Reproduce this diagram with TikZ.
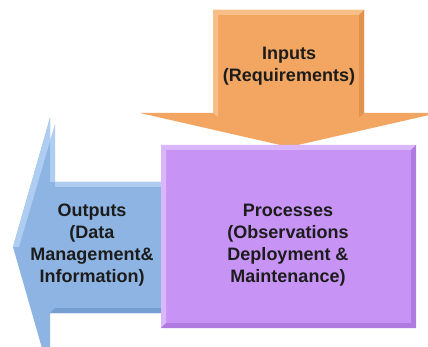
\documentclass[tikz,border=0pt]{standalone}
\usepackage{fontspec}
\setmainfont{Liberation Sans}
\definecolor{inorange}{RGB}{242,166,98}
\definecolor{inorangelt}{RGB}{247,190,135}
\definecolor{inorangedk}{RGB}{226,146,78}
\definecolor{procpurple}{RGB}{199,148,245}
\definecolor{procpurplelt}{RGB}{218,182,250}
\definecolor{procpurpledk}{RGB}{176,122,224}
\definecolor{outblue}{RGB}{141,180,226}
\definecolor{outbluelt}{RGB}{175,205,240}
\definecolor{outbluedk}{RGB}{118,158,208}
\definecolor{txtgray}{RGB}{28,28,28}
\begin{document}
\begin{tikzpicture}[x=1pt,y=-1pt,
  lbl/.style={font=\bfseries\fontsize{18}{22}\selectfont, text=txtgray, align=center, inner sep=0pt}]
\useasboundingbox (0,0) rectangle (428,347);
\fill[white] (0,0) rectangle (428,347);
\clip (0,0) rectangle (428,347);
% blue output arrow
\fill[outblue] (161,182) -- (50,182) -- (50,118) -- (13,247) -- (50,376) -- (50,313) -- (161,313) -- cycle;
\fill[outbluelt] (161,182) -- (50,182) -- (50,118) -- (13,247) -- (19,247) -- (55,124) -- (55,187) -- (161,187) -- cycle;
\fill[outbluedk] (161,313) -- (50,313) -- (55,308) -- (161,308) -- cycle;
% orange input arrow
\fill[inorange] (213,10) -- (364,10) -- (364,113) -- (438,113) -- (289,147) -- (140,113) -- (213,113) -- cycle;
\fill[inorangelt] (213,10) -- (364,10) -- (359,15) -- (218,15) -- cycle;
\fill[inorangelt] (213,10) -- (218,15) -- (218,117) -- (213,113) -- cycle;
\fill[inorangedk] (364,10) -- (364,113) -- (359,117) -- (359,15) -- cycle;
% purple process box
\fill[procpurple] (161,145) rectangle (416,328);
\fill[procpurplelt] (161,145) -- (416,145) -- (411,150) -- (166,150) -- cycle;
\fill[procpurplelt] (161,145) -- (166,150) -- (166,323) -- (161,328) -- cycle;
\fill[procpurpledk] (416,145) -- (416,328) -- (411,323) -- (411,150) -- cycle;
\fill[procpurpledk] (161,328) -- (416,328) -- (411,323) -- (166,323) -- cycle;
% labels
\node[lbl] (inputs) at (289,66) {Inputs\\(Requirements)};
\node[lbl] (processes) at (288,245) {Processes\\(Observations\\Deployment \&\\Maintenance)};
\node[lbl] (outputs) at (92,245) {Outputs\\(Data\\Management\&\\Information)};
\end{tikzpicture}
\end{document}
